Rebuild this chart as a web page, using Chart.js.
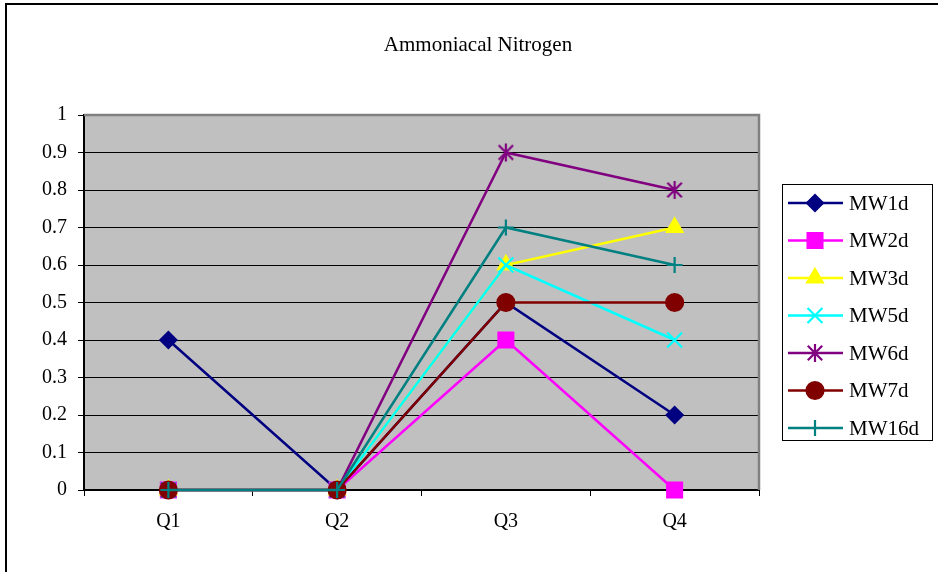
<!DOCTYPE html>
<html>
<head>
<meta charset="utf-8">
<script src="https://cdn.jsdelivr.net/npm/chart.js@4/dist/chart.umd.min.js"></script>
<style>
  html, body { margin: 0; padding: 0; background: #ffffff; }
  #wrap { width: 938px; height: 572px; position: relative; }
</style>
</head>
<body>
<div id="wrap"><canvas id="c" width="938" height="572"></canvas></div>
<script>
// Quarterly ammoniacal nitrogen readings per monitoring well
const categories = ['Q1', 'Q2', 'Q3', 'Q4'];
const seriesNames = ['MW1d', 'MW2d', 'MW3d', 'MW5d', 'MW6d', 'MW7d', 'MW16d'];
const mw1d  = [0.4, 0, 0.5, 0.2];
const mw2d  = [0,   0, 0.4, 0];
const mw3d  = [0,   0, 0.6, 0.7];
const mw5d  = [0,   0, 0.6, 0.4];
const mw6d  = [0,   0, 0.9, 0.8];
const mw7d  = [0,   0, 0.5, 0.5];
const mw16d = [0,   0, 0.7, 0.6];
const yMin = 0, yMax = 1, yStep = 0.1;
const chartTitle = 'Ammoniacal Nitrogen';

const FONT = 'Liberation Serif, "Times New Roman", serif';
const tickFont = { family: FONT, size: 20 };

// Asterisk marker: an X with a vertical stroke through it
function asteriskMarker(color, size) {
  const c = document.createElement('canvas');
  c.width = size; c.height = size;
  const g = c.getContext('2d');
  g.strokeStyle = color;
  g.lineWidth = 2.2;
  const m = size / 2, r = size / 2 - 1;
  const d = r * 0.8;
  g.beginPath();
  g.moveTo(m - d, m - d); g.lineTo(m + d, m + d);
  g.moveTo(m + d, m - d); g.lineTo(m - d, m + d);
  g.moveTo(m, m - r); g.lineTo(m, m + r);
  g.stroke();
  return c;
}

const styles = [
  { color: '#000080', pointStyle: 'rectRot',  radius: 8 },
  { color: '#FF00FF', pointStyle: 'rect',     radius: 10.5 },
  { color: '#FFFF00', pointStyle: 'triangle', radius: 9 },
  { color: '#00FFFF', pointStyle: 'crossRot', radius: 10.5 },
  { color: '#800080', pointStyle: asteriskMarker('#800080', 20), radius: 9 },
  { color: '#800000', pointStyle: 'circle',   radius: 8.5 },
  { color: '#008080', pointStyle: 'cross',    radius: 8 }
];
const seriesData = [mw1d, mw2d, mw3d, mw5d, mw6d, mw7d, mw16d];

const datasets = seriesNames.map((name, i) => ({
  label: name,
  data: seriesData[i],
  borderColor: styles[i].color,
  backgroundColor: styles[i].color,
  borderWidth: 2.5,
  tension: 0,
  pointStyle: styles[i].pointStyle,
  pointRadius: styles[i].radius,
  pointHoverRadius: styles[i].radius,
  pointBorderWidth: 2.2,
  pointBackgroundColor: styles[i].color,
  pointBorderColor: styles[i].color,
  clip: false,
  order: seriesNames.length - i   // later wells drawn on top
}));

const framePlugin = {
  id: 'frame',
  beforeDraw(chart) {
    const { ctx, chartArea: a } = chart;
    ctx.save();
    ctx.fillStyle = '#C0C0C0';
    ctx.fillRect(a.left, a.top, a.right - a.left, a.bottom - a.top);
    ctx.restore();
  },
  beforeDatasetsDraw(chart) {
    const { ctx, chartArea: a } = chart;
    ctx.save();
    ctx.strokeStyle = '#808080';
    ctx.lineWidth = 2.5;
    ctx.beginPath();
    ctx.moveTo(a.left, a.top);
    ctx.lineTo(a.right, a.top);
    ctx.lineTo(a.right, a.bottom);
    ctx.stroke();
    ctx.restore();
  },
  afterDraw(chart) {
    const { ctx } = chart;
    ctx.save();
    // outer frame (top and left edges)
    ctx.fillStyle = '#000';
    ctx.fillRect(5, 3, 933, 2);
    ctx.fillRect(5, 3, 2, 569);
    // title
    ctx.fillStyle = '#000';
    ctx.font = '21px ' + FONT;
    ctx.textAlign = 'center';
    ctx.textBaseline = 'middle';
    ctx.fillText(chartTitle, 478, 45);
    // legend box
    const bx = 782, by = 184, bw = 150, bh = 256;
    ctx.fillStyle = '#fff';
    ctx.fillRect(bx, by, bw, bh);
    ctx.strokeStyle = '#000';
    ctx.lineWidth = 1;
    ctx.strokeRect(bx + 0.5, by + 0.5, bw, bh);
    const step = 37.5;
    seriesNames.forEach((name, i) => {
      const y = by + 19 + i * step;
      const s = styles[i];
      ctx.strokeStyle = s.color;
      ctx.lineWidth = 2.5;
      ctx.beginPath();
      ctx.moveTo(788, y);
      ctx.lineTo(843, y);
      ctx.stroke();
      ctx.fillStyle = s.color;
      ctx.lineWidth = 2.2;
      Chart.helpers.drawPoint(ctx, {
        pointStyle: s.pointStyle, radius: s.radius, rotation: 0, borderWidth: 2.2
      }, 815, y);
      ctx.fillStyle = '#000';
      ctx.font = '21px ' + FONT;
      ctx.textAlign = 'left';
      ctx.textBaseline = 'middle';
      ctx.fillText(name, 849, y + 1);
    });
    ctx.restore();
  }
};

new Chart(document.getElementById('c'), {
  type: 'line',
  data: { labels: categories, datasets },
  options: {
    responsive: false,
    animation: false,
    events: [],
    layout: { padding: { left: 0, top: 115, right: 179, bottom: 0 } },
    plugins: {
      legend: { display: false },
      title: { display: false },
      tooltip: { enabled: false }
    },
    scales: {
      x: {
        type: 'category',
        offset: true,
        grid: { offset: true, drawOnChartArea: false, color: '#000', tickLength: 6, lineWidth: 1 },
        border: { color: '#000', width: 2 },
        ticks: { color: '#000', font: tickFont, padding: 14, maxRotation: 0 },
        afterFit(s) { s.height = 82; }
      },
      y: {
        min: yMin, max: yMax,
        ticks: {
          stepSize: yStep, color: '#000', font: tickFont, padding: 11,
          callback: (v) => String(Number(v.toFixed(1)))
        },
        grid: { color: '#000', lineWidth: 1, tickLength: 6 },
        border: { color: '#000', width: 2 },
        afterFit(s) { s.width = 84; }
      }
    }
  },
  plugins: [framePlugin]
});
</script>
</body>
</html>
